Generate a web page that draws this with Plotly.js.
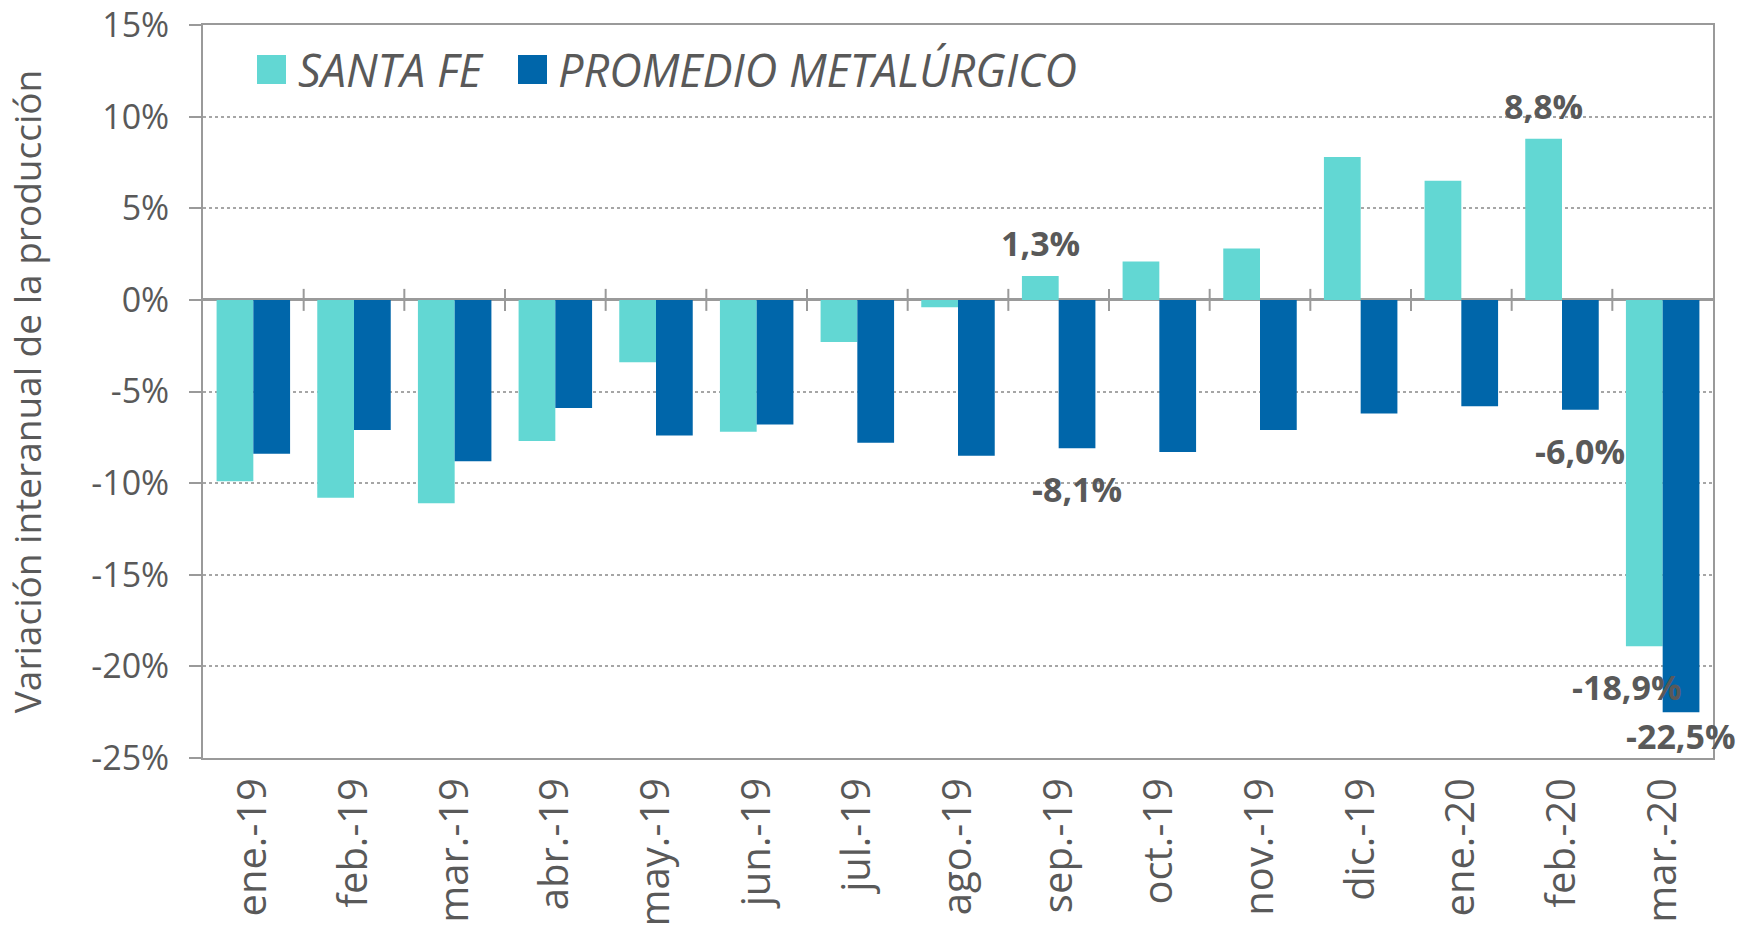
<!DOCTYPE html>
<html>
<head>
<meta charset="utf-8">
<script src="https://cdn.plot.ly/plotly-3.0.1.min.js"></script>
<style>
  html, body { margin: 0; padding: 0; background: #ffffff; }
  #chart { width: 1746px; height: 926px; }
</style>
</head>
<body>
<div id="chart"></div>
<script>
// ---------------- DATA ----------------
const categories = ['ene.-19','feb.-19','mar.-19','abr.-19','may.-19','jun.-19','jul.-19','ago.-19','sep.-19','oct.-19','nov.-19','dic.-19','ene.-20','feb.-20','mar.-20'];
const seriesNames = ['SANTA FE', 'PROMEDIO METALÚRGICO'];
const santaFe  = [-9.9, -10.8, -11.1, -7.7, -3.4, -7.2, -2.3, -0.4, 1.3, 2.1, 2.8, 7.8, 6.5, 8.8, -18.9];
const promedio = [-8.4, -7.1, -8.8, -5.9, -7.4, -6.8, -7.8, -8.5, -8.1, -8.3, -7.1, -6.2, -5.8, -6.0, -22.5];
// points that carry a value label (index into categories)
const labeledPoints = [8, 13, 14];
const yTickVals = [-25, -20, -15, -10, -5, 0, 5, 10, 15];
const yTickText = ['-25%', '-20%', '-15%', '-10%', '-5%', '0%', '5%', '10%', '15%'];

// ---------------- STYLE ----------------
const colSF = '#62D7D3';
const colPM = '#0066AA';
const textGray = '#595959';
const axisGray = '#9a9a9a';
const FONT = 'Open Sans, Lato, sans-serif';
const BARGAP = 0.27;

const M = {l: 203, r: 33, t: 25, b: 168};
const W = 1746, H = 926;
const pw = W - M.l - M.r, ph = H - M.t - M.b;
const pxX = px => (px - M.l) / pw;
const pxY = py => (H - M.b - py) / ph;
const yMin = yTickVals[0], yMax = yTickVals[yTickVals.length - 1];

const traces = [
  {type: 'bar', name: seriesNames[0], x: categories, y: santaFe,
   marker: {color: colSF}, showlegend: false, hoverinfo: 'x+y'},
  {type: 'bar', name: seriesNames[1], x: categories, y: promedio,
   marker: {color: colPM}, showlegend: false, hoverinfo: 'x+y'}
];

const fmt = v => v.toFixed(1).replace('.', ',') + '%';
const offset = (1 - BARGAP) / 4;
const annotations = [];
const series = [santaFe, promedio];
labeledPoints.forEach(i => {
  series.forEach((arr, s) => {
    const v = arr[i];
    const pos = v >= 0;
    const room = (v - yMin) * (ph / (yMax - yMin)) - 47;
    // a negative label that would overlap the neighbouring bar is nudged left
    const clash = !pos && s === 0 && promedio[i] < v;
    annotations.push({
      xref: 'x', yref: 'y',
      x: i + (s === 0 ? -offset : offset), y: v,
      text: fmt(v), showarrow: false,
      xanchor: 'center', yanchor: pos ? 'bottom' : 'top',
      xshift: clash ? -17 : 0,
      yshift: pos ? 8 : -Math.min(16, room),
      font: {family: FONT, size: 34, color: textGray, weight: 'bold'}
    });
  });
});

// custom legend (large swatches like the original)
const shapes = [];
const legendItems = [
  {name: seriesNames[0], color: colSF, sx0: 257, sx1: 286, tx: 296},
  {name: seriesNames[1], color: colPM, sx0: 518, sx1: 547, tx: 556}
];
legendItems.forEach(it => {
  shapes.push({type: 'rect', xref: 'paper', yref: 'paper',
    x0: pxX(it.sx0), x1: pxX(it.sx1), y0: pxY(84), y1: pxY(55),
    fillcolor: it.color, line: {width: 0}, layer: 'above'});
  annotations.push({xref: 'paper', yref: 'paper', x: pxX(it.tx), y: pxY(70),
    xanchor: 'left', yanchor: 'middle', showarrow: false, text: it.name,
    font: {family: FONT, size: 45, color: textGray, style: 'italic'}});
});

// category separator ticks on the zero line
for (let i = 1; i < categories.length; i++) {
  shapes.push({type: 'line', xref: 'x', yref: 'y', ysizemode: 'pixel', yanchor: 0,
    x0: i - 0.5, x1: i - 0.5, y0: -11, y1: 11,
    line: {color: axisGray, width: 2}, layer: 'above'});
}

const layout = {
  width: W, height: H,
  margin: M,
  paper_bgcolor: '#ffffff', plot_bgcolor: '#ffffff',
  barmode: 'group', bargap: BARGAP, bargroupgap: 0,
  font: {family: FONT, color: textGray},
  showlegend: false,
  xaxis: {
    type: 'category',
    range: [-0.5, categories.length - 0.5], autorange: false,
    tickangle: -90,
    tickfont: {family: FONT, size: 40, color: textGray},
    ticks: '', ticklabelstandoff: 2,
    ticklabeloverflow: 'allow',
    showline: true, linecolor: axisGray, linewidth: 2, mirror: true,
    showgrid: false, zeroline: false,
    automargin: false, fixedrange: true
  },
  yaxis: {
    range: [yMin - 0.001, yMax + 0.001], autorange: false,
    tickvals: yTickVals, ticktext: yTickText,
    tickfont: {family: FONT, size: 34, color: textGray},
    ticks: 'outside', ticklen: 12, tickwidth: 2, tickcolor: axisGray,
    ticklabelstandoff: 13,
    ticklabeloverflow: 'allow',
    showline: true, linecolor: axisGray, linewidth: 2, mirror: true,
    showgrid: true, gridcolor: '#a6a6a6', gridwidth: 2, griddash: 'dot',
    zeroline: true, zerolinecolor: axisGray, zerolinewidth: 3,
    title: {text: 'Variación interanual de la producción', standoff: 38,
            font: {family: FONT, size: 37, color: textGray}},
    automargin: false, fixedrange: true
  },
  annotations: annotations,
  shapes: shapes
};

Plotly.newPlot('chart', traces, layout, {displayModeBar: false, staticPlot: true});
</script>
</body>
</html>
